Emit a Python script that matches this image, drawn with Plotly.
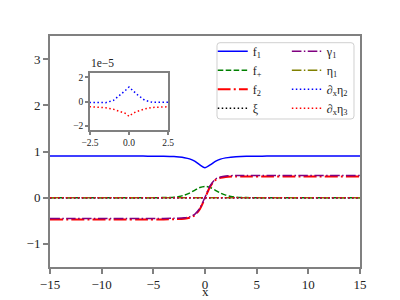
import plotly.graph_objects as go

# ---------------- data ----------------
x_f1 = [-15, -6, -4, -3, -2.5, -2, -1.5, -1, -0.5, 0, 0.5, 1, 1.5, 2, 2.5, 3, 4, 6, 15]
f1 = [0.9, 0.9, 0.897, 0.89, 0.88, 0.865, 0.84, 0.79, 0.71, 0.65, 0.71, 0.785, 0.835, 0.862, 0.878, 0.888, 0.897, 0.9, 0.9]

x_fp = [-15, -5, -4, -3, -2.5, -2, -1.5, -1, -0.5, 0, 0.5, 1, 1.5, 2, 2.5, 3, 4, 5, 15]
f_plus = [0, 0, 0.003, 0.012, 0.028, 0.055, 0.1, 0.16, 0.22, 0.245, 0.22, 0.16, 0.1, 0.055, 0.028, 0.012, 0.003, 0, 0]

x_f2 = [-15, -4, -3, -2, -1.5, -1, -0.5, 0, 0.5, 1, 1.5, 2, 3, 4, 15]
f2 = [-0.47, -0.47, -0.465, -0.455, -0.435, -0.38, -0.25, -0.01, 0.24, 0.38, 0.43, 0.45, 0.46, 0.46, 0.46]
gamma1 = [-0.45, -0.45, -0.445, -0.435, -0.415, -0.36, -0.23, 0.01, 0.26, 0.40, 0.45, 0.47, 0.48, 0.48, 0.48]

x_flat = [-15, 15]
xi = [0, 0]
eta1 = [0, 0]

x_dx = [-15, -5, -2.5, -2, -1.5, -1, -0.5, -0.25, 0, 0.25, 0.5, 1, 1.5, 2, 2.5, 5, 15]
# in units of 1e-5
dx_eta2 = [0, -0.02, -0.05, -0.07, -0.08, 0.1, 0.6, 0.9, 1.2, 0.9, 0.6, 0.12, -0.06, -0.05, -0.03, 0, 0]
dx_eta3 = [-0.3, -0.35, -0.42, -0.46, -0.5, -0.62, -0.8, -0.95, -1.2, -0.95, -0.8, -0.6, -0.47, -0.4, -0.35, -0.3, -0.3]
scale = 1e-5

x_ticks = [-15, -10, -5, 0, 5, 10, 15]
y_ticks = [-1, 0, 1, 2, 3]
inset_x_ticks = [-2.5, 0.0, 2.5]
inset_y_ticks = [-2, 0, 2]

# ---------------- styles ----------------
FONT = "Liberation Serif"
SPINE = "#808080"

def dash(kind, lw):
    if kind == "--":
        return f"{3.7*lw}px,{1.6*lw}px"
    if kind == "-.":
        return f"{6.4*lw}px,{1.6*lw}px,{1*lw}px,{1.6*lw}px"
    if kind == ":":
        return f"{1*lw}px,{1.65*lw}px"
    return "solid"

fig = go.Figure()

def add(x, y, name, color, kind, width=1.5, legend="legend", rank=1, shape="spline"):
    fig.add_trace(go.Scatter(x=x, y=y, name=name, mode="lines",
                             line=dict(color=color, dash=dash(kind, width), width=width, shape=shape,
                                       smoothing=0.8 if shape == "spline" else None),
                             legend=legend, legendrank=rank))

add(x_f1, f1, "f<sub>1</sub>", "#0000ff", "-", legend="legend", rank=1)
add(x_fp, f_plus, "f<sub>+</sub>", "#008000", "--", legend="legend", rank=2)
add(x_f2, f2, "f<sub>2</sub>", "#ff0000", "-.", width=2, legend="legend", rank=3)
add(x_flat, xi, "ξ", "#000000", ":", legend="legend", rank=4, shape="linear")
add(x_f2, gamma1, "γ<sub>1</sub>", "#800080", "-.", legend="legend2", rank=5)
add(x_flat, eta1, "η<sub>1</sub>", "#808000", "-.", legend="legend2", rank=6, shape="linear")
add(x_dx, [v * scale for v in dx_eta2], "∂<sub>x</sub>η<sub>2</sub>", "#0000ff", ":", legend="legend2", rank=7, shape="linear")
add(x_dx, [v * scale for v in dx_eta3], "∂<sub>x</sub>η<sub>3</sub>", "#ff0000", ":", legend="legend2", rank=8, shape="linear")

# inset traces (values shown in units of 1e-5)
fig.add_trace(go.Scatter(x=x_dx, y=dx_eta2, mode="lines", showlegend=False,
                         line=dict(color="#0000ff", dash=dash(":", 1.5), width=1.5), xaxis="x2", yaxis="y2"))
fig.add_trace(go.Scatter(x=x_dx, y=dx_eta3, mode="lines", showlegend=False,
                         line=dict(color="#ff0000", dash=dash(":", 1.5), width=1.5), xaxis="x2", yaxis="y2"))

axis_common = dict(showline=True, linecolor=SPINE, linewidth=2, mirror=True, automargin=False,
                   ticks="outside", tickcolor=SPINE, tickwidth=1.5,
                   showgrid=False, zeroline=False, tickfont=dict(family=FONT, size=13, color="#222"))
inset_common = {**axis_common, "tickfont": dict(family=FONT, size=9.5, color="#222"), "linewidth": 1.5}

fig.update_layout(
    template="none",
    width=400, height=300,
    margin=dict(l=50, r=40, t=36, b=33, pad=0),
    paper_bgcolor="white", plot_bgcolor="white",
    font=dict(family=FONT, color="#222"),
    xaxis=dict(range=[-15, 15], tickvals=x_ticks, ticklen=4.5, **axis_common),
    yaxis=dict(range=[-1.5, 3.5], tickvals=y_ticks, ticklen=5, **axis_common),
    xaxis2=dict(domain=[0.129, 0.381], anchor="y2", range=[-2.5, 2.5], tickvals=inset_x_ticks,
                tickformat=".1f", ticklen=3, **inset_common),
    yaxis2=dict(domain=[0.593, 0.8385], anchor="x2", range=[-2.32, 2.32], tickvals=inset_y_ticks,
                ticklen=3, **inset_common),
    legend=dict(x=0.525, y=0.997, xanchor="left", yanchor="top", bgcolor="rgba(0,0,0,0)",
                font=dict(family=FONT, size=12), tracegroupgap=0, itemwidth=30),
    legend2=dict(x=0.764, y=0.997, xanchor="left", yanchor="top", bgcolor="rgba(0,0,0,0)",
                 font=dict(family=FONT, size=12), tracegroupgap=0, itemwidth=30),
    annotations=[
        dict(text="1e−5", xref="paper", yref="paper", x=0.126, y=0.885,
             xanchor="left", yanchor="middle", showarrow=False,
             font=dict(family=FONT, size=11.5, color="#222")),
        dict(text="x", xref="paper", yref="paper", x=0.5, y=-0.1420,
             xanchor="center", yanchor="bottom", showarrow=False, borderpad=0,
             font=dict(family=FONT, size=13, color="#222")),
    ],
)

# rounded legend frame
x0, x1, y0, y1 = 0.5387, 0.9806, 0.6407, 0.971
rx, ry = 3 / 310, 3 / 231
path = (f"M{x0+rx},{y0} L{x1-rx},{y0} Q{x1},{y0} {x1},{y0+ry} L{x1},{y1-ry} Q{x1},{y1} {x1-rx},{y1} "
        f"L{x0+rx},{y1} Q{x0},{y1} {x0},{y1-ry} L{x0},{y0+ry} Q{x0},{y0} {x0+rx},{y0} Z")
fig.add_shape(type="path", path=path, xref="paper", yref="paper",
              line=dict(color="#d0d0d0", width=1), fillcolor="rgba(255,255,255,0.8)", layer="below")

fig.write_html("out.html", config={"displayModeBar": False},
               post_script="document.body.style.margin='0px';")
